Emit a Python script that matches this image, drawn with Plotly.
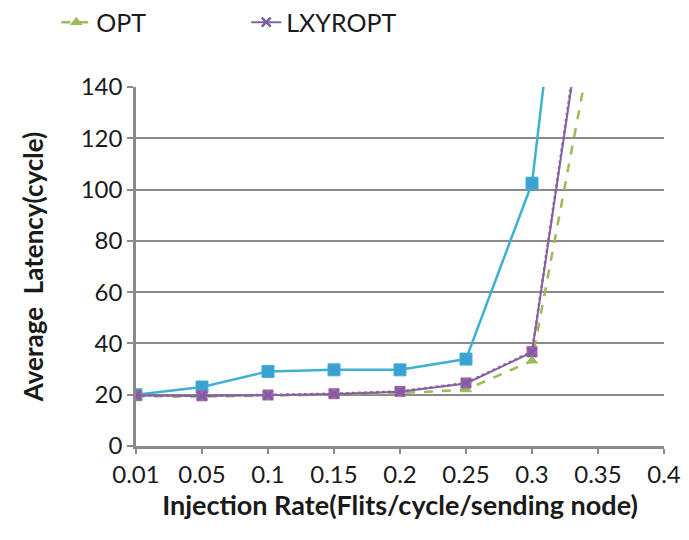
import plotly.graph_objects as go

rates = ["0.01", "0.05", "0.1", "0.15", "0.2", "0.25", "0.3", "0.35", "0.4"]
series_blue = [20, 23, 29.1, 29.7, 29.7, 33.9, 102.5, 320, None]
opt = [19.4, 19.3, 19.6, 20.0, 20.6, 22.0, 33.2, 170, None]
series_pink = [19.8, 19.6, 19.9, 20.4, 21.3, 24.6, 36.8, 212, None]
lxyropt = [19.7, 19.5, 19.8, 20.3, 21.2, 24.4, 36.5, 210, None]

y_ticks = [0, 20, 40, 60, 80, 100, 120, 140]

FONT = "Lato"
GRID = "#8a8a8a"

fig = go.Figure()
fig.add_trace(go.Scatter(
    x=rates, y=series_blue, mode="lines+markers", name="Series",
    showlegend=False,
    line=dict(color="#3FB0D0", width=2.5),
    marker=dict(symbol="square", size=12, color="#3BA0D2", line=dict(color="#3FB0D0", width=1)),
))
fig.add_trace(go.Scatter(
    x=rates, y=opt, mode="lines+markers", name="OPT",
    line=dict(color="#9BBB59", width=2.5, dash="dash"),
    marker=dict(symbol="triangle-up", size=11, color="#9BBB59"),
))
fig.add_trace(go.Scatter(
    x=rates, y=series_pink, mode="lines+markers", name="Series2",
    showlegend=False,
    line=dict(color="#B8609E", width=2.5, dash="dot"),
    marker=dict(symbol="square", size=11, color="#B0609E"),
))
fig.add_trace(go.Scatter(
    x=rates, y=lxyropt, mode="lines+markers", name="LXYROPT",
    line=dict(color="#8064A2", width=2),
    marker=dict(symbol="x-thin", size=9, color="#7A5FA8", line=dict(color="#7A5FA8", width=2.5)),
))

fig.update_layout(
    width=689, height=540,
    margin=dict(l=136, r=25, t=87, b=94, autoexpand=False),
    paper_bgcolor="white", plot_bgcolor="white",
    font=dict(family=FONT, size=24, color="#1a1a1a"),
    legend=dict(
        orientation="h", x=-0.151, y=1.18, xanchor="left", yanchor="middle",
        font=dict(size=25, family=FONT), entrywidth=145, entrywidthmode="pixels",
        bgcolor="rgba(0,0,0,0)",
    ),
    xaxis=dict(
        type="category", range=[0, 8], showgrid=False,
        showline=True, linecolor=GRID, linewidth=2.5,
        ticks="outside", ticklen=5, tickwidth=2, tickcolor=GRID,
        tickfont=dict(size=24, family=FONT),
        title=dict(text="<b>Injection Rate(Flits/cycle/sending node)</b>",
                   font=dict(size=27, family=FONT), standoff=2),
        fixedrange=True,
    ),
    yaxis=dict(
        range=[0, 140], tickvals=y_ticks, showgrid=True, gridcolor=GRID, gridwidth=2,
        showline=True, linecolor=GRID, linewidth=2.5, zeroline=False,
        ticks="outside", ticklen=6, tickwidth=2, tickcolor=GRID,
        tickfont=dict(size=24, family=FONT),
        title=dict(text="<b>Average  Latency(cycle)</b>",
                   font=dict(size=26, family=FONT), standoff=30),
        fixedrange=True,
    ),
)

fig.write_html("out.html")
